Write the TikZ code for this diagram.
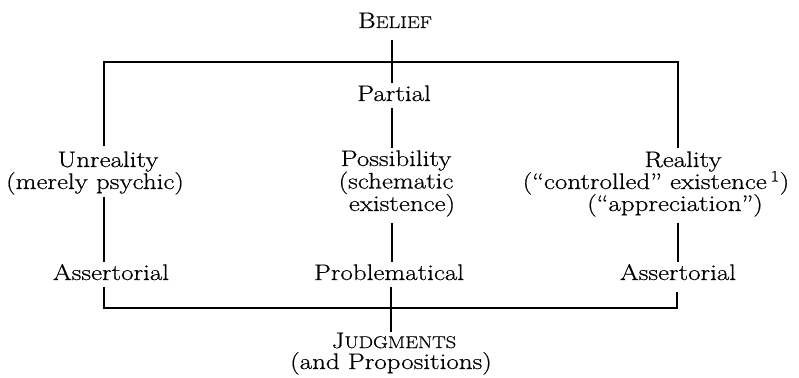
\documentclass[tikz,border=0pt]{standalone}
\usepackage{fontspec}
\setmainfont{Latin Modern Roman}[FakeStretch=1.2,FakeBold=0.6]
\usetikzlibrary{calc}
\newcommand{\mysmc}[2]{#1{\fontsize{17}{18}\selectfont #2}}
\begin{document}
\begin{tikzpicture}[x=1pt,y=-1pt,
  txt/.style={anchor=base, inner sep=0pt, font=\fontsize{22.5}{22}\selectfont},
  rule/.style={line width=2.8pt}]
\useasboundingbox (0,0) rectangle (799,377);
\node[txt] (belief) at (395,28) {\mysmc{B}{ELIEF}};
\node[txt] (partial) at (394,101) {Partial};
\node[txt] (unreal1) at (108,167) {Unreality};
\node[txt] (unreal2) at (95,189) {(merely psychic)};
\node[txt] (poss1) at (396,166) {Possibility};
\node[txt] (poss2) at (396,188.5) {(schematic};
\node[txt] (poss3) at (402,211) {existence)};
\node[txt] (real1) at (683,167) {Reality};
\node[txt] (real2) at (656,189) {(``controlled'' existence\,\textsuperscript{1})};
\node[txt] (real3) at (675,211) {(``appreciation'')};
\node[txt] (assertL) at (111,280) {Assertorial};
\node[txt] (problem) at (389,280) {Problematical};
\node[txt] (assertR) at (678,280) {Assertorial};
\node[txt] (judg1) at (394,348) {\mysmc{J}{UDGMENTS}};
\node[txt] (judg2) at (391,369) {(and Propositions)};
\coordinate (tl) at (104,62);
\coordinate (tr) at (678,62);
\coordinate (bl) at (104,308);
\coordinate (br) at (677,308);
% frame
\draw[rule] ($(unreal1.base)+(-4,-21)$) -- (tl) -- (tr) -- ($(real1.base)+(-5,-19)$);
\draw[rule] ($(assertL.base)+(-7,7)$) -- (bl) -- (br) -- ($(assertR.base)+(-1,12)$);
% left column
\draw[rule] ($(unreal2.base)+(9,8)$) -- ($(assertL.base)+(-7,-18)$);
% middle column
\draw[rule] ($(belief.base)+(-3,12)$) -- ($(partial.base)+(-2,-18)$);
\draw[rule] ($(partial.base)+(-2,7)$) -- ($(poss1.base)+(-4,-18)$);
\draw[rule] ($(poss3.base)+(-10,12)$) -- ($(problem.base)+(3,-18)$);
\draw[rule] ($(problem.base)+(2,7)$) -- ($(judg1.base)+(-3,-16)$);
% right column
\draw[rule] ($(real3.base)+(3,12)$) -- ($(assertR.base)+(0,-18)$);
\end{tikzpicture}
\end{document}
